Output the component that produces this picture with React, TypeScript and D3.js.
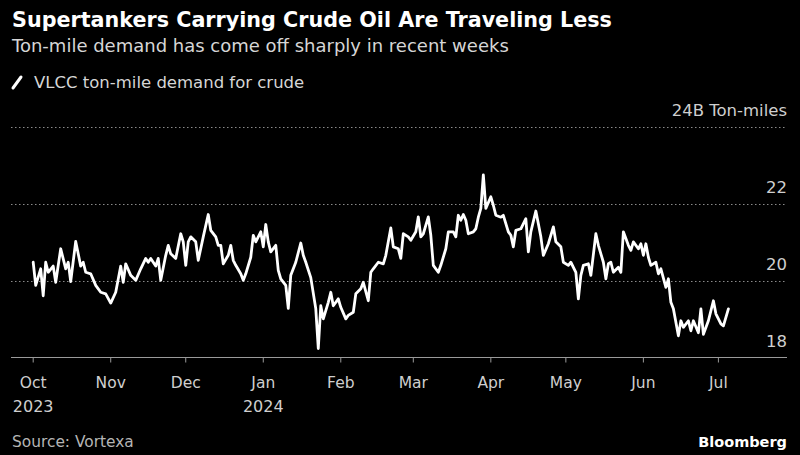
import React from "react";
import * as d3 from "d3";

const dates = [
"2023-10-01","2023-10-02","2023-10-04","2023-10-05","2023-10-06","2023-10-07","2023-10-09","2023-10-10","2023-10-12","2023-10-14",
"2023-10-15","2023-10-16","2023-10-18","2023-10-20","2023-10-21","2023-10-22","2023-10-24","2023-10-26","2023-10-28","2023-10-30",
"2023-11-01","2023-11-03","2023-11-05","2023-11-06","2023-11-07","2023-11-09","2023-11-11","2023-11-13","2023-11-15","2023-11-16",
"2023-11-17","2023-11-19","2023-11-20","2023-11-21","2023-11-23","2023-11-24","2023-11-25","2023-11-27","2023-11-29","2023-11-30",
"2023-12-01","2023-12-02","2023-12-03","2023-12-05","2023-12-06","2023-12-08","2023-12-10","2023-12-11","2023-12-13","2023-12-14",
"2023-12-15","2023-12-16","2023-12-18","2023-12-19","2023-12-20","2023-12-21","2023-12-23","2023-12-24","2023-12-25","2023-12-27",
"2023-12-28","2023-12-29","2023-12-31","2024-01-01","2024-01-02","2024-01-03","2024-01-04","2024-01-06","2024-01-07","2024-01-08",
"2024-01-10","2024-01-11","2024-01-12","2024-01-14","2024-01-16","2024-01-17","2024-01-18","2024-01-20","2024-01-22","2024-01-23",
"2024-01-24","2024-01-25","2024-01-27","2024-01-28","2024-01-29","2024-01-31","2024-02-01","2024-02-03","2024-02-04","2024-02-06",
"2024-02-07","2024-02-09","2024-02-10","2024-02-12","2024-02-13","2024-02-14","2024-02-16","2024-02-18","2024-02-19","2024-02-21",
"2024-02-22","2024-02-24","2024-02-25","2024-02-26","2024-02-28","2024-02-29","2024-03-02","2024-03-03","2024-03-04","2024-03-05",
"2024-03-07","2024-03-08","2024-03-09","2024-03-11","2024-03-12","2024-03-14","2024-03-15","2024-03-17","2024-03-18","2024-03-19",
"2024-03-20","2024-03-21","2024-03-22","2024-03-23","2024-03-25","2024-03-26","2024-03-27","2024-03-28","2024-03-29","2024-03-30",
"2024-04-01","2024-04-02","2024-04-03","2024-04-05","2024-04-06","2024-04-08","2024-04-09","2024-04-10","2024-04-11","2024-04-13",
"2024-04-15","2024-04-16","2024-04-17","2024-04-19","2024-04-20","2024-04-21","2024-04-22","2024-04-24","2024-04-26","2024-04-27",
"2024-04-29","2024-04-30","2024-05-02","2024-05-03","2024-05-05","2024-05-06","2024-05-07","2024-05-08","2024-05-10","2024-05-11",
"2024-05-13","2024-05-14","2024-05-16","2024-05-17","2024-05-18","2024-05-19","2024-05-20","2024-05-22","2024-05-23","2024-05-24",
"2024-05-26","2024-05-27","2024-05-28","2024-05-30","2024-05-31","2024-06-01","2024-06-02","2024-06-03","2024-06-04","2024-06-06",
"2024-06-07","2024-06-08","2024-06-10","2024-06-11","2024-06-12","2024-06-13","2024-06-15","2024-06-16","2024-06-17","2024-06-19",
"2024-06-20","2024-06-21","2024-06-23","2024-06-24","2024-06-25","2024-06-27","2024-06-29","2024-06-30","2024-07-02","2024-07-03",
"2024-07-05"
];

const demand = [
20.5,19.9,20.33,19.63,20.5,20.24,20.4,19.98,20.85,20.33,
20.5,20.0,21.04,20.4,20.5,20.24,20.2,19.9,19.72,19.68,
19.44,19.72,20.4,19.98,20.46,20.16,20.03,20.33,20.6,20.5,
20.6,20.4,20.6,20.03,20.68,20.94,20.72,20.6,21.24,21.03,
20.42,21.03,21.16,21.03,20.55,21.16,21.74,21.33,21.16,20.94,
20.94,20.46,20.68,20.94,20.55,20.42,20.2,20.03,20.2,20.63,
21.2,21.03,21.29,20.9,21.48,21.03,20.77,20.94,20.29,20.07,
19.9,19.3,20.16,20.5,21.0,20.68,20.5,20.1,19.29,18.26,
19.37,19.03,19.46,19.72,19.37,19.55,19.33,19.03,19.12,19.2,
19.68,19.81,19.98,19.5,20.24,20.33,20.5,20.46,20.68,21.39,
20.9,20.85,20.6,21.24,21.16,21.07,21.29,21.68,21.16,21.24,
21.68,21.2,20.42,20.24,20.42,20.85,21.29,21.29,21.16,21.72,
21.59,21.74,21.59,21.24,21.29,21.37,21.67,21.9,22.77,21.9,
22.2,21.98,21.72,21.67,21.72,21.29,21.2,20.9,21.33,21.37,
21.63,20.77,21.29,21.83,21.5,21.16,20.68,20.98,21.42,21.03,
20.9,20.5,20.42,20.5,20.24,19.55,20.16,20.42,20.46,20.16,
21.24,20.94,20.5,20.07,20.46,20.5,20.24,20.37,20.24,21.29,
20.94,20.81,21.03,20.85,20.98,20.68,20.98,20.63,20.42,20.5,
20.2,20.33,19.85,20.07,19.46,19.29,18.59,18.98,18.81,18.98,
18.72,18.98,18.67,19.29,18.63,18.98,19.5,19.16,18.9,18.85,
19.29
];

const yTicks = [18, 20, 22, 24];
const monthTicks = ["2023-10-01","2023-11-01","2023-12-01","2024-01-01","2024-02-01","2024-03-01","2024-04-01","2024-05-01","2024-06-01","2024-07-01"];
const monthLabels = ["Oct","Nov","Dec","Jan","Feb","Mar","Apr","May","Jun","Jul"];
const yearLabels = ["2023","","","2024","","","","","",""];

const title = "Supertankers Carrying Crude Oil Are Traveling Less";
const subtitle = "Ton-mile demand has come off sharply in recent weeks";
const legendLabel = "VLCC ton-mile demand for crude";
const unitLabel = "24B Ton-miles";
const source = "Source: Vortexa";

const W = 800;
const H = 455;
const FONT = "'DejaVu Sans', sans-serif";

export default function App() {
  const parse = d3.timeParse("%Y-%m-%d");
  const data = dates.map((d, i) => ({ date: parse(d) as Date, value: demand[i] }));

  const x = d3
    .scaleTime()
    .domain([parse("2023-10-01") as Date, parse("2024-07-01") as Date])
    .range([33.2, 718.4]);
  const y = d3.scaleLinear().domain([18, 24]).range([358.5, 127.5]);

  const line = d3
    .line<{ date: Date; value: number }>()
    .x((d) => x(d.date))
    .y((d) => y(d.value))
    .curve(d3.curveLinear);

  const left = 11;
  const right = 787;
  const axisY = 357.5;

  return (
    <div style={{ position: "fixed", left: 0, top: 0, width: W, height: H, background: "#000" }}>
      <svg width={W} height={H} style={{ display: "block", background: "#000" }} fontFamily={FONT}>
        <rect x={0} y={0} width={W} height={H} fill="#000" />
        <text x={12} y={27} fill="#fff" fontSize={20.7} fontWeight="bold">{title}</text>
        <text x={12} y={52} fill="#d6d6d6" fontSize={18}>{subtitle}</text>

        <line x1={13} y1={88} x2={21} y2={77} stroke="#fff" strokeWidth={3} strokeLinecap="round" />
        <text x={34} y={88} fill="#d6d6d6" fontSize={16.5}>{legendLabel}</text>

        {yTicks.filter((t) => t > 18).map((t) => (
          <line key={"g" + t} x1={left} x2={right} y1={y(t)} y2={y(t)} stroke="#8a8a8a" strokeWidth={1} strokeDasharray="1.5,2.5" />
        ))}
        {yTicks.map((t) => (
          <text key={"yl" + t} x={right} y={y(t) - 12} fill="#cfcfcf" fontSize={16.5} textAnchor="end">
            {t === 24 ? unitLabel : String(t)}
          </text>
        ))}

        <line x1={left} x2={right} y1={axisY} y2={axisY} stroke="#9a9a9a" strokeWidth={1.2} />
        {monthTicks.map((m, i) => {
          const xx = x(parse(m) as Date);
          return (
            <g key={m}>
              <line x1={xx} x2={xx} y1={axisY} y2={axisY + 5} stroke="#9a9a9a" strokeWidth={1} />
              <text x={xx} y={388} fill="#cfcfcf" fontSize={15.5} textAnchor="middle">{monthLabels[i]}</text>
              {yearLabels[i] && (
                <text x={xx} y={412} fill="#cfcfcf" fontSize={16} textAnchor="middle">{yearLabels[i]}</text>
              )}
            </g>
          );
        })}

        <path d={line(data) || ""} fill="none" stroke="#fff" strokeWidth={2.8} strokeLinejoin="round" strokeLinecap="round" />

        <text x={12} y={447} fill="#b5b5b5" fontSize={15.4}>{source}</text>
        <text x={787} y={447} fill="#fff" fontSize={14.5} fontWeight="bold" textAnchor="end">Bloomberg</text>
      </svg>
    </div>
  );
}
